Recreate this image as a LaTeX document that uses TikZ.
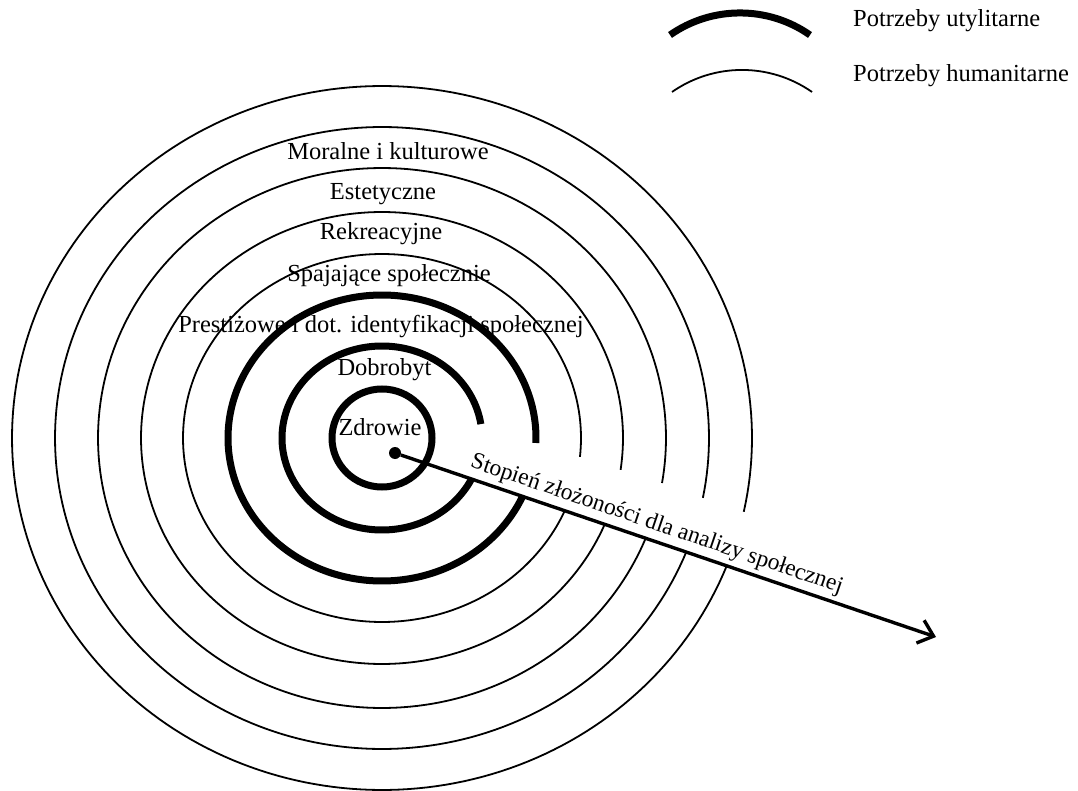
\documentclass[tikz,border=0pt]{standalone}
\usepackage{fontspec}
\setmainfont{Liberation Serif}
\usetikzlibrary{arrows.meta}
\begin{document}
\begin{tikzpicture}[x=1pt,y=-1pt,
  thinring/.style={line width=1.8pt},
  thickring/.style={line width=7pt},
  lbl/.style={font=\fontsize{24.5}{29}\selectfont, inner sep=0pt, anchor=base},
  axisline/.style={line width=3.4pt, -{Straight Barb[length=14pt,width=24pt,line width=3.4pt]}}
]
\useasboundingbox (0,0) rectangle (1078,791);

% labels of the levels (drawn first, the rings pass over them)
\node[lbl] (moralne) at (388,160) {Moralne i kulturowe};
\node[lbl] (estet)   at (383,200) {Estetyczne};
\node[lbl] (rekre)   at (381,240) {Rekreacyjne};
\node[lbl] (spaj)    at (389,282) {Spajające społecznie};
\node[lbl] (prest)   at (381,333) {Prestiżowe i dot. identyfikacji społecznej};
\node[lbl] (dobro)   at (384.5,375) {Dobrobyt};
\node[lbl] (zdrow)   at (380,435) {Zdrowie};

% rings around the common centre (382,438): x radius / y radius / start / end / style
\coordinate (c) at (382,438);
\draw[thickring] (c) ellipse [x radius=50pt, y radius=49pt];
\foreach \rx/\ry/\a/\b/\st in {
    100/92/26.5/351.3/thickring,
    154/143/24.1/362/thickring,
    199/184/23.3/365.9/thinring,
    241/226/22.5/368.1/thinring,
    284/270/21.8/369.6/thinring,
    327/311/21.5/371.1/thinring,
    370/352/21.3/372.1/thinring}
  \draw[\st] plot[domain=\a:\b, samples=240] ({382+\rx*cos(\x)},{438+\ry*sin(\x)});

% axis of complexity
\node[circle, fill, inner sep=0pt, minimum size=12pt] (dot) at (395,453) {};
\coordinate (tip) at (936,637);
\draw[axisline] (dot) -- (tip);
\node[lbl, font=\fontsize{23.5}{28}\selectfont, rotate=-18.8] (axislbl) at (655,530) {Stopień złożoności dla analizy społecznej};

% legend
\draw[line width=7pt] (670,35) .. controls (712,5.6) and (768,5.6) .. (810,35);
\draw[line width=1.8pt] (672,92) .. controls (714,62.6) and (770,62.6) .. (812,92);
\node[lbl, anchor=base west] (leg1) at (853,27) {Potrzeby utylitarne};
\node[lbl, anchor=base west] (leg2) at (853,82) {Potrzeby humanitarne};
\end{tikzpicture}
\end{document}
